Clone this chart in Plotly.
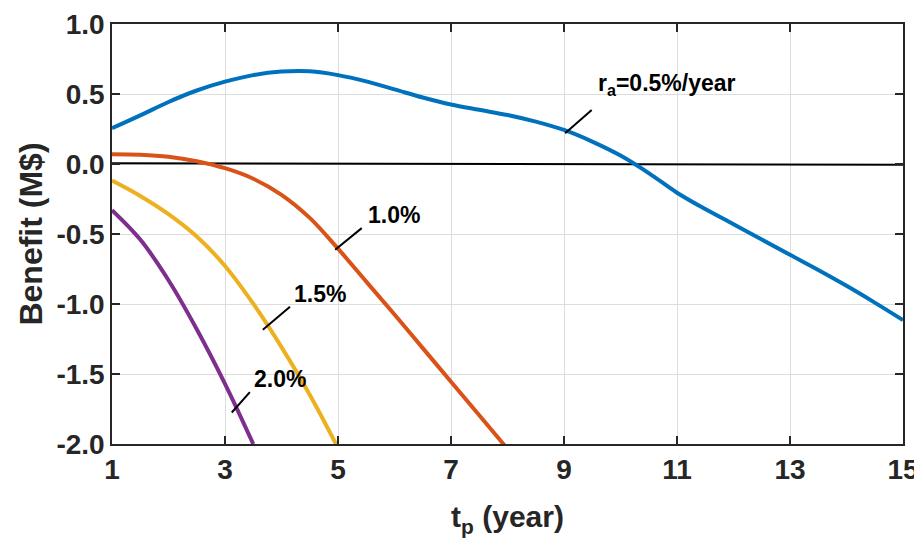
import plotly.graph_objects as go

# ---- data ----
x_blue = [1, 1.5, 2, 2.5, 3, 3.5, 4, 4.5, 5, 5.5, 6, 6.5, 7, 7.5, 8, 8.5, 9, 9.5, 10, 10.5, 11, 11.5, 12, 12.5, 13, 13.5, 14, 14.5, 15]
y_blue = [0.255, 0.347, 0.443, 0.525, 0.588, 0.635, 0.66, 0.662, 0.635, 0.59, 0.533, 0.475, 0.425, 0.387, 0.35, 0.303, 0.243, 0.16, 0.06, -0.065, -0.205, -0.322, -0.43, -0.54, -0.649, -0.757, -0.87, -0.99, -1.115]

x_orange = [1, 1.5, 2, 2.5, 3, 3.5, 4, 4.5, 5, 5.5, 6, 6.5, 7, 7.5, 8]
y_orange = [0.07, 0.066, 0.052, 0.02, -0.03, -0.105, -0.22, -0.385, -0.605, -0.84, -1.075, -1.315, -1.555, -1.795, -2.035]

x_yellow = [1, 1.5, 2, 2.5, 3, 3.5, 4, 4.5, 5]
y_yellow = [-0.118, -0.228, -0.358, -0.518, -0.728, -0.998, -1.308, -1.648, -2.028]

x_purple = [1, 1.5, 2, 2.5, 3, 3.5]
y_purple = [-0.33, -0.54, -0.83, -1.18, -1.57, -2.0]

x_zero = [1, 15]
y_zero = [0.005, -0.005]

labels = ["r<sub>a</sub>=0.5%/year", "1.0%", "1.5%", "2.0%"]
# pointer line (x0, y0, x1, y1) and text anchor (x, y)
ptr = [(9.02, 0.22, 9.49, 0.386), (4.95, -0.613, 5.42, -0.458), (3.67, -1.184, 4.15, -1.02), (3.12, -1.775, 3.44, -1.63)]
txt = [(9.56, 0.565), (5.49, -0.363), (4.19, -0.93), (3.48, -1.536)]

x_ticks = [1, 3, 5, 7, 9, 11, 13, 15]
y_ticks = [1.0, 0.5, 0.0, -0.5, -1.0, -1.5, -2.0]
y_tick_text = ["1.0", "0.5", "0.0", "-0.5", "-1.0", "-1.5", "-2.0"]

colors = ["#0072BD", "#D95319", "#EDB120", "#7E2F8E"]
FONT = "Liberation Sans"
DARK = "#262626"

fig = go.Figure()
fig.add_trace(go.Scatter(x=x_zero, y=y_zero, mode="lines", line=dict(color="black", width=2), showlegend=False))
for xs, ys, c in [(x_blue, y_blue, colors[0]), (x_orange, y_orange, colors[1]),
                  (x_yellow, y_yellow, colors[2]), (x_purple, y_purple, colors[3])]:
    fig.add_trace(go.Scatter(x=xs, y=ys, mode="lines", line=dict(color=c, width=4, shape="spline", smoothing=1.0),
                             showlegend=False))

for (x0, y0, x1, y1), (tx, ty), lab in zip(ptr, txt, labels):
    fig.add_shape(type="line", x0=x0, y0=y0, x1=x1, y1=y1, line=dict(color="black", width=2))
    fig.add_annotation(x=tx, y=ty, text=lab, showarrow=False, xanchor="left", yanchor="middle",
                       font=dict(family=FONT, size=23, color="black", weight="bold"))

axis_common = dict(
    showgrid=True, gridcolor="#dddddd", gridwidth=1.2,
    showline=True, linecolor=DARK, linewidth=1.5, mirror="ticks",
    ticks="inside", ticklen=8, tickwidth=1.5, tickcolor=DARK,
    zeroline=False, automargin=False,
    tickfont=dict(family=FONT, size=28, color=DARK, weight="bold"),
)

fig.update_xaxes(range=[1, 15], tickvals=x_ticks, ticktext=[str(v) for v in x_ticks],
                 title=dict(text="t<sub>p</sub> (year)", font=dict(family=FONT, size=30, color=DARK, weight="bold"), standoff=22),
                 **axis_common)
fig.update_yaxes(range=[-2.0, 1.0], tickvals=y_ticks, ticktext=y_tick_text,
                 title=dict(text="Benefit (M$)", font=dict(family=FONT, size=32, color=DARK, weight="bold"), standoff=4),
                 **axis_common)

# the page adds an 8 px body margin, so the figure is sized to fit the 922x542 window
fig.update_layout(width=914, height=534, margin=dict(l=104, r=19, t=16, b=98),
                  plot_bgcolor="white", paper_bgcolor="white")

fig.write_html("out.html")
